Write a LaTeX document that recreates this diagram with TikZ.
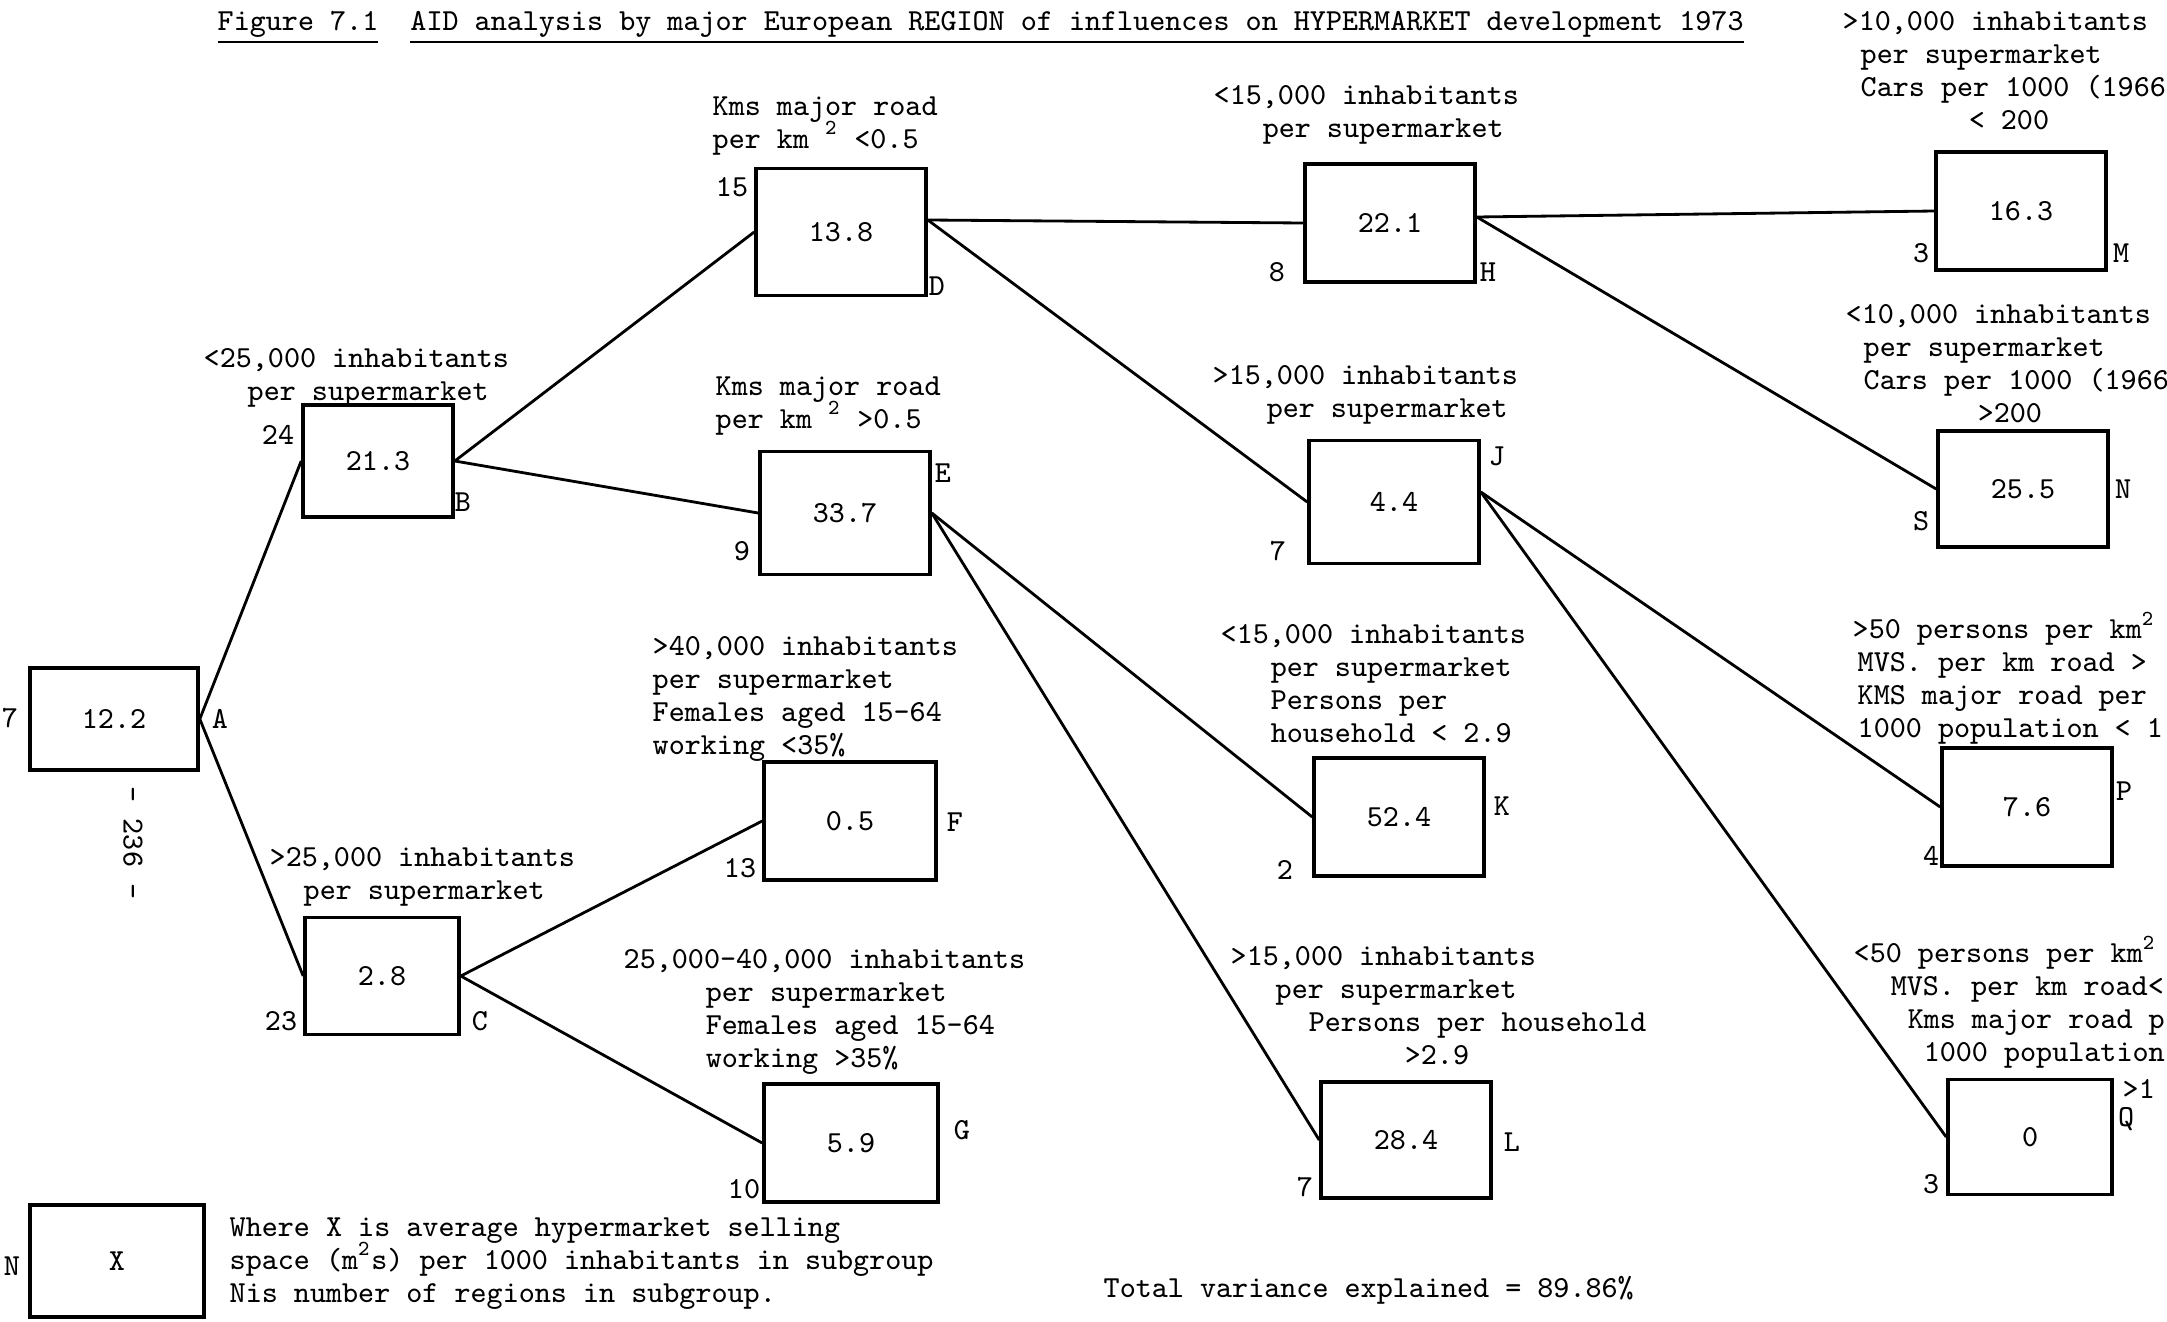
\documentclass[tikz,border=0pt]{standalone}
\begin{document}
\begin{tikzpicture}[x=0.01cm,y=-0.01cm,
 font=\ttfamily\fontsize{8.7}{9.3}\selectfont,
 box/.style={draw,line width=1pt,minimum width=1.7cm,minimum height=1.18cm},
 cond/.style={align=left,anchor=base west,inner sep=0pt},
 tag/.style={inner sep=0pt},
 branch/.style={line width=0.8pt}]
\useasboundingbox (0,0) rectangle (2167,1321);

\node [cond] (title) at (217,30) {\underline{Figure 7.1}\ \ \underline{AID analysis by major European REGION of influences on HYPERMARKET development 1973}};

\node [box,minimum width=1.68cm,minimum height=1.02cm] (A) at (114,719) {12.2};
\node [box,minimum width=1.5cm,minimum height=1.12cm] (B) at (378,461) {21.3};
\node [box,minimum width=1.54cm,minimum height=1.17cm] (C) at (382,976) {2.8};
\node [box,minimum height=1.27cm] (D) at (841,232) {13.8};
\node [box,minimum height=1.23cm] (E) at (845,513) {33.7};
\node [box,minimum width=1.72cm] (F) at (850,821) {0.5};
\node [box,minimum width=1.74cm] (G) at (851,1143) {5.9};
\node [box] (H) at (1390,223) {22.1};
\node [box,minimum height=1.23cm] (J) at (1394,502) {4.4};
\node [box] (K) at (1399,817) {52.4};
\node [box,minimum height=1.16cm] (L) at (1406,1140) {28.4};
\node [box] (M) at (2021,211) {16.3};
\node [box,minimum height=1.16cm] (N) at (2023,489) {25.5};
\node [box] (P) at (2027,807) {7.6};
\node [box,minimum width=1.64cm,minimum height=1.15cm] (Q) at (2030,1137) {0};
\node [box,minimum width=1.74cm,minimum height=1.12cm] (key) at (117,1261) {X};

\coordinate (Dout) at ([yshift=0.12cm]D.east);
\coordinate (Hout) at ([yshift=0.06cm]H.east);
\coordinate (Jout) at ([yshift=0.1cm]J.east);
\foreach \u/\v in {A.east/B,A.east/C,B.east/D,B.east/E,C.east/F,C.east/G,Dout/H,Dout/J,
  E.east/K,E.east/L,Hout/M,Hout/N,Jout/P,Jout/Q}
  \draw [branch] (\u) -- (\v.west);

\foreach \t/\x/\y/\n in {7/10/718/nA, A/220/719/lA, 24/278/435/nB, B/463/502/lB,
  23/281/1021/nC, C/480/1021/lC, 15/732/187/nD, D/937/286/lD, E/943/473/lE, 9/742/551/nE,
  F/955/822/lF, 13/740/868/nF, G/962/1130/lG, 10/744/1189/nG, 8/1277/272/nH, H/1488/272/lH,
  J/1497/456/lJ, 7/1278/551/nJ, K/1502/806/lK, 2/1285/870/nK, L/1512/1142/lL, 7/1305/1187/nL,
  3/1921/253/nM, M/2121/253/lM, S/1921/521/nN, N/2123/489/lN, P/2124/791/lP, 4/1931/856/nP,
  Q/2126/1119/lQ, 3/1931/1184/nQ, N/12/1266/nkey}
  \node [tag] (\n) at (\x,\y) {\t};
\node [tag,rotate=-90] (pageno) at (133,843) {- 236 -};

\node [cond] (condB) at (203,400) {<25,000 inhabitants\\\hspace*{0.44cm}per supermarket};
\node [cond] (condC) at (269,899) {>25,000 inhabitants\\\hspace*{0.34cm}per supermarket};
\node [cond] (condD) at (712,148) {Kms major road\\per km \smash{\textsuperscript{2}} <0.5};
\node [cond] (condE) at (715,428) {Kms major road\\per km \smash{\textsuperscript{2}} >0.5};
\node [cond] (condF) at (652,754) {>40,000 inhabitants\\per supermarket\\Females aged 15-64\\working <35\%};
\node [cond] (condG) at (623,1067) {25,000-40,000 inhabitants\\\hspace*{0.82cm}per supermarket\\\hspace*{0.82cm}Females aged 15-64\\\hspace*{0.82cm}working >35\%};
\node [cond] (condH) at (1213,137) {<15,000 inhabitants\\\hspace*{0.49cm}per supermarket};
\node [cond] (condJ) at (1212,417) {>15,000 inhabitants\\\hspace*{0.54cm}per supermarket};
\node [cond] (condK) at (1220,742) {<15,000 inhabitants\\\hspace*{0.5cm}per supermarket\\\hspace*{0.5cm}Persons per\\\hspace*{0.5cm}household < 2.9};
\node [cond] (condL) at (1230,1064) {>15,000 inhabitants\\\hspace*{0.45cm}per supermarket\\\hspace*{0.78cm}Persons per household\\\hspace*{1.74cm}>2.9};
\node [cond] (condM) at (1842,129) {>10,000 inhabitants\\\hspace*{0.18cm}per supermarket\\\hspace*{0.18cm}Cars per 1000 (1966\\\hspace*{1.26cm}< 200};
\node [cond] (condN) at (1845,422) {<10,000 inhabitants\\\hspace*{0.18cm}per supermarket\\\hspace*{0.18cm}Cars per 1000 (1966\\\hspace*{1.32cm}>200};
\node [cond] (condP) at (1852,737) {>50 persons per km\smash{\textsuperscript{2}}\\\hspace*{0.05cm}MVS. per km road >\\\hspace*{0.05cm}KMS major road per\\\hspace*{0.05cm}1000 population < 1};
\node [cond] (condQ) at (1853,1061) {<50 persons per km\smash{\textsuperscript{2}}\\\hspace*{0.37cm}MVS. per km road<\\\hspace*{0.54cm}Kms major road p\\\hspace*{0.70cm}1000 population};
\node [cond] (tailQ) at (2122,1098) {>1};

\node [cond] (keytext) at (229,1302) {Where X is average hypermarket selling\\space (m\smash{\textsuperscript{2}}s) per 1000 inhabitants in subgroup\\Nis number of regions in subgroup.};
\node [cond] (total) at (1103,1297) {Total variance explained = 89.86\%};
\end{tikzpicture}
\end{document}
